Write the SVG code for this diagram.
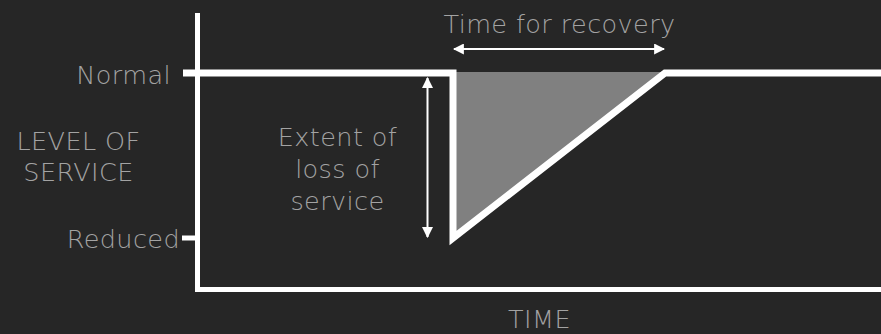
<svg xmlns="http://www.w3.org/2000/svg" width="881" height="334" viewBox="0 0 881 334">
  <style>
    .lbl { font-family: "DejaVu Sans", "Liberation Sans", sans-serif; font-weight: 200; font-size: 25.5px; letter-spacing: 0.4px; fill: #a3a3a3; }
    .mid { text-anchor: middle; }
    .end { text-anchor: end; }
    .axis { fill: none; stroke: #ffffff; stroke-width: 5; stroke-linejoin: miter; }
    .curve { fill: none; stroke: #ffffff; stroke-width: 7; stroke-linejoin: miter; stroke-miterlimit: 10; }
    .dim { fill: none; stroke: #ffffff; stroke-width: 2; }
  </style>
  <defs>
    <marker id="ah" viewBox="0 0 10 10" refX="9" refY="5" markerWidth="11" markerHeight="11" markerUnits="userSpaceOnUse" orient="auto-start-reverse">
      <path d="M0,0 L10,5 L0,10 Z" fill="#ffffff"/>
    </marker>
  </defs>
  <rect width="881" height="334" fill="#262626"/>

  <g id="chart">
    <polygon points="453,72 453,238 665,72" fill="#808080"/>
    <path class="axis" d="M197.5,13 V289.5 H881"/>
    <line class="axis" x1="182" y1="238" x2="197.5" y2="238"/>
    <path class="curve" d="M183,73 H453 V238 L665,73 H881"/>
  </g>

  <g id="connectors">
    <line class="dim" x1="427.5" y1="78" x2="427.5" y2="237" marker-start="url(#ah)" marker-end="url(#ah)"/>
    <line class="dim" x1="454" y1="49" x2="664" y2="49" marker-start="url(#ah)" marker-end="url(#ah)"/>
  </g>

  <g id="labels">
    <text class="lbl mid" x="559.5" y="33">Time for recovery</text>
    <text class="lbl end" x="171" y="84">Normal</text>
    <text class="lbl end" x="180" y="248">Reduced</text>
    <text class="lbl mid" x="78.5" y="150">LEVEL OF</text>
    <text class="lbl mid" x="78.5" y="181">SERVICE</text>
    <text class="lbl mid" x="337.5" y="146">Extent of</text>
    <text class="lbl mid" x="337.5" y="178">loss of</text>
    <text class="lbl mid" x="337.5" y="210">service</text>
    <text class="lbl mid" x="539.5" y="328">TIME</text>
  </g>
</svg>
